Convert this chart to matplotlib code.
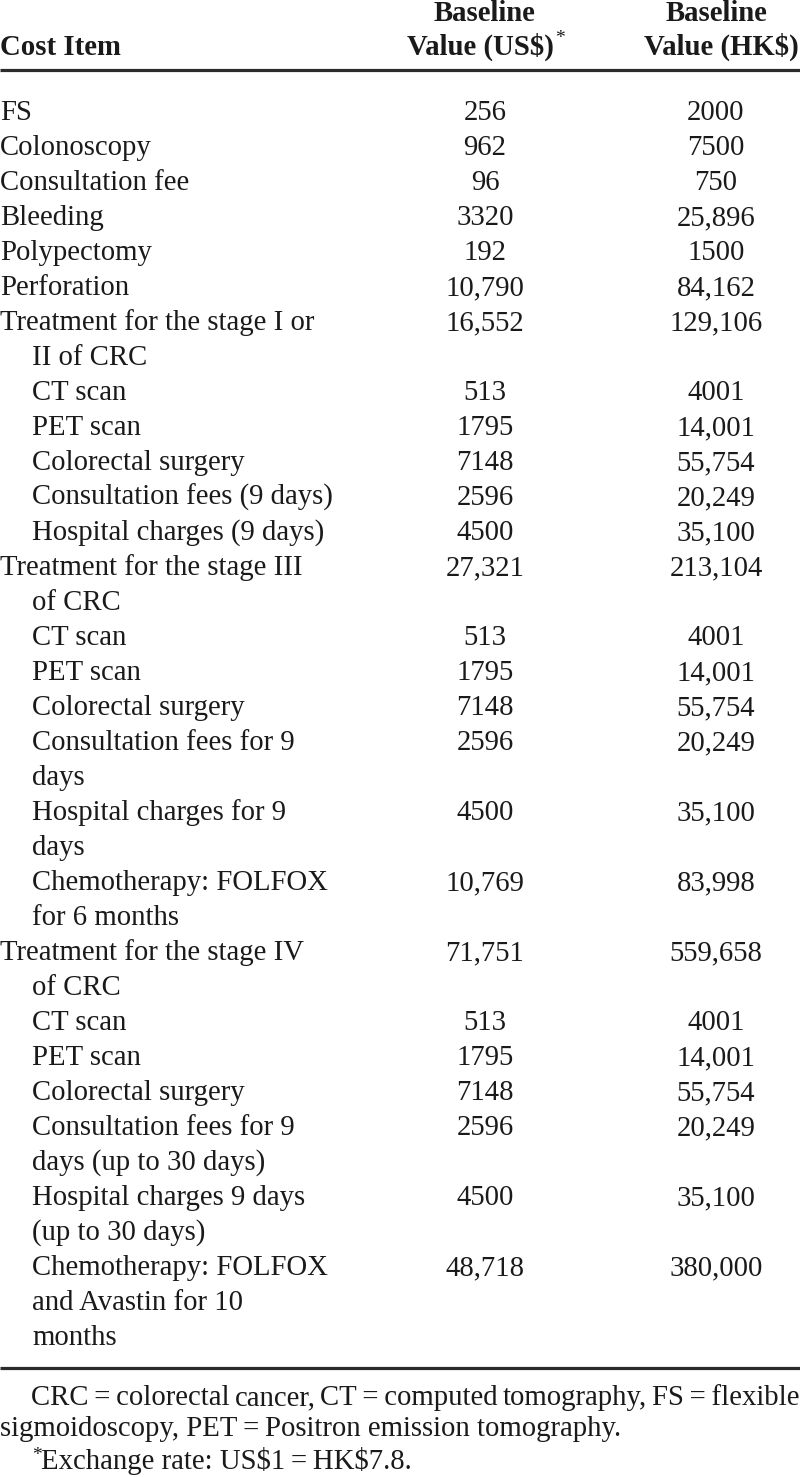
import matplotlib
matplotlib.use("Agg")
import matplotlib.pyplot as plt

plt.rcParams["font.family"] = ["Liberation Serif", "DejaVu Serif"]

# Table data
items = [
    "FS",
    "Colonoscopy",
    "Consultation fee",
    "Bleeding",
    "Polypectomy",
    "Perforation",
    "Treatment for the stage I or\nII of CRC",
    "CT scan",
    "PET scan",
    "Colorectal surgery",
    "Consultation fees (9 days)",
    "Hospital charges (9 days)",
    "Treatment for the stage III\nof CRC",
    "CT scan",
    "PET scan",
    "Colorectal surgery",
    "Consultation fees for 9\ndays",
    "Hospital charges for 9\ndays",
    "Chemotherapy: FOLFOX\nfor 6 months",
    "Treatment for the stage IV\nof CRC",
    "CT scan",
    "PET scan",
    "Colorectal surgery",
    "Consultation fees for 9\ndays (up to 30 days)",
    "Hospital charges 9 days\n(up to 30 days)",
    "Chemotherapy: FOLFOX\nand Avastin for 10\nmonths",
]
sub_item = [0, 0, 0, 0, 0, 0, 0, 1, 1, 1, 1, 1, 0, 1, 1, 1, 1, 1, 1, 0, 1, 1, 1, 1, 1, 1]
usd = ["256", "962", "96", "3320", "192", "10,790", "16,552", "513", "1795", "7148",
       "2596", "4500", "27,321", "513", "1795", "7148", "2596", "4500", "10,769",
       "71,751", "513", "1795", "7148", "2596", "4500", "48,718"]
hkd = ["2000", "7500", "750", "25,896", "1500", "84,162", "129,106", "4001", "14,001",
       "55,754", "20,249", "35,100", "213,104", "4001", "14,001", "55,754", "20,249",
       "35,100", "83,998", "559,658", "4001", "14,001", "55,754", "20,249", "35,100",
       "380,000"]
footnote_1 = ["CRC\u2009=\u2009colorectal", "cancer,", "CT\u2009=\u2009computed", "tomography,",
              "FS\u2009=\u2009flexible"]
footnote_2 = "sigmoidoscopy, PET\u2009=\u2009Positron emission tomography."
footnote_3 = "Exchange rate: US$1\u2009=\u2009HK$7.8."

W, H = 800, 1477
fig = plt.figure(figsize=(W / 100, H / 100), dpi=100)
ax = fig.add_axes([0, 0, 1, 1])
ax.set_xlim(0, W)
ax.set_ylim(H, 0)
ax.axis("off")

fs = 20.7
fs_star = 14
ink = "#1a1a1a"
rule = "#2b2b2b"
col_us = 485
col_hk = 716
indent = 32
line_h = 35.0

# header
ax.text(0, 55, "Cost Item", fontsize=fs, fontweight="bold", va="baseline", ha="left", color=ink)
ax.text(col_us, 21, "Baseline", fontsize=fs, fontweight="bold", va="baseline", ha="center", color=ink)
ax.text(col_us - 5, 55, "Value (US$)", fontsize=fs, fontweight="bold", va="baseline", ha="center",
        color=ink, parse_math=False)
ax.text(col_us + 70, 43, "*", fontsize=fs_star, va="baseline", ha="left", color=ink)
ax.text(col_hk, 21, "Baseline", fontsize=fs, fontweight="bold", va="baseline", ha="center", color=ink)
ax.text(W - 1, 55, "Value (HK$)", fontsize=fs, fontweight="bold", va="baseline", ha="right",
        color=ink, parse_math=False)
ax.plot([0, W], [70, 70], color=rule, lw=2.3, solid_capstyle="butt")

y = 120
for label, sub, u, h in zip(items, sub_item, usd, hkd):
    lines = label.split("\n")
    ax.text(col_us, y, u, fontsize=fs, va="baseline", ha="center", color=ink)
    ax.text(col_hk, y, h, fontsize=fs, va="baseline", ha="center", color=ink)
    for k, ln in enumerate(lines):
        x = indent if (sub or k > 0) else 0
        ax.text(x, y, ln, fontsize=fs, va="baseline", ha="left", color=ink)
        y += line_h

ax.plot([0, W], [1368, 1368], color=rule, lw=2.3, solid_capstyle="butt")

# first footnote line is justified to the full width
renderer = fig.canvas.get_renderer()
words = [ax.text(0, 1405, w, fontsize=fs, va="baseline", ha="left", color=ink) for w in footnote_1]
widths = [t.get_window_extent(renderer).width for t in words]
gap = (W - 1 - 31 - sum(widths)) / (len(words) - 1)
x = 31
for t, w in zip(words, widths):
    t.set_x(x)
    x += w + gap

ax.text(0, 1436, footnote_2, fontsize=fs, va="baseline", ha="left", color=ink)
ax.text(32, 1460, "*", fontsize=fs_star, va="baseline", ha="left", color=ink)
ax.text(41, 1469, footnote_3, fontsize=fs, va="baseline", ha="left", color=ink, parse_math=False)

fig.savefig("out.png", dpi=100)
